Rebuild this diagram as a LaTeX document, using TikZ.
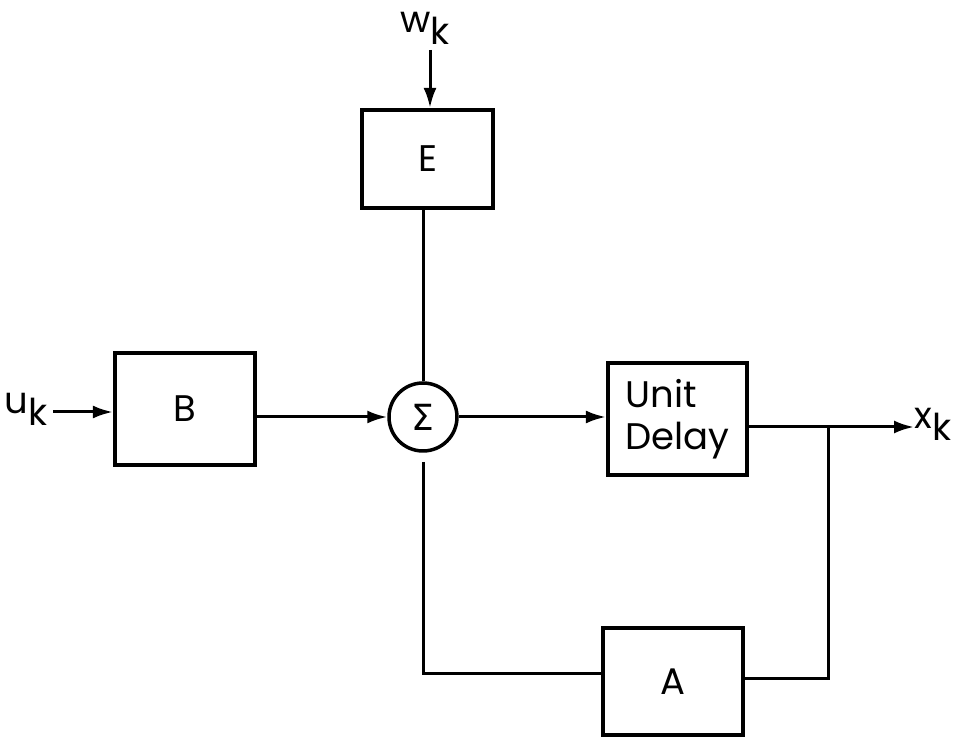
\documentclass[tikz,border=0pt]{standalone}
\usepackage{fontspec}
\setmainfont{Poppins}
\newfontfamily\symfont{DejaVu Sans}
\usetikzlibrary{arrows.meta}
\tikzset{
  blk/.style={draw, line width=4.2pt, inner sep=0pt, font=\fontsize{37}{42}\selectfont, align=center},
  conn/.style={line width=3pt},
  arr/.style={conn, -{Latex[length=20pt,width=13pt]}},
  lbl/.style={inner sep=0pt, font=\fontsize{37}{42}\selectfont},
  sumn/.style={draw, circle, line width=3.5pt, minimum size=68pt, inner sep=0pt, font=\symfont\fontsize{36}{40}\selectfont}
}
\newcommand{\subk}[1]{#1\raisebox{-12pt}{k}}
\begin{document}
\begin{tikzpicture}[x=1pt,y=1pt]
\useasboundingbox (0,0) rectangle (956,742);
% blocks
\node[blk, minimum width=131pt, minimum height=98pt] (E) at (427.5,583) {E};
\node[blk, minimum width=140pt, minimum height=112pt] (B) at (185,333) {B};
\node[sumn] (S) at (423,325) {Σ};
\node[blk, minimum width=139pt, minimum height=112pt, align=left] (D) at (677.5,323) {Unit\\Delay};
\node[blk, minimum width=140pt, minimum height=107pt] (A) at (673,60.5) {A};
% labels
\node[lbl] (wk) at (425,714) {\subk{w}};
\node[lbl] (uk) at (26,333) {\subk{u}};
\node[lbl] (xk) at (933,318) {\subk{x}};
% coordinates
\coordinate (wks) at (430,692);
\coordinate (uks) at (53,330);
\coordinate (br) at (828,315);
\coordinate (xke) at (914,315);
\coordinate (ar) at (828,64);
\coordinate (sl) at (423,280);
\coordinate (bl) at (423,69);
% connectors
\draw[arr] (wks) -- (wks |- E.north);
\draw[arr] (uks) -- (uks -| B.west);
\draw[arr] (B.east |- S.west) -- (S.west);
\draw[arr] (S.east) -- (S.east -| D.west);
\draw[conn] (E.south -| S.north) -- (S.north);
\draw[arr] (br -| D.east) -- (xke);
\draw[conn] (br) -- (ar) -- (ar -| A.east);
\draw[conn] (sl) -- (bl) -- (bl -| A.west);
\end{tikzpicture}
\end{document}
